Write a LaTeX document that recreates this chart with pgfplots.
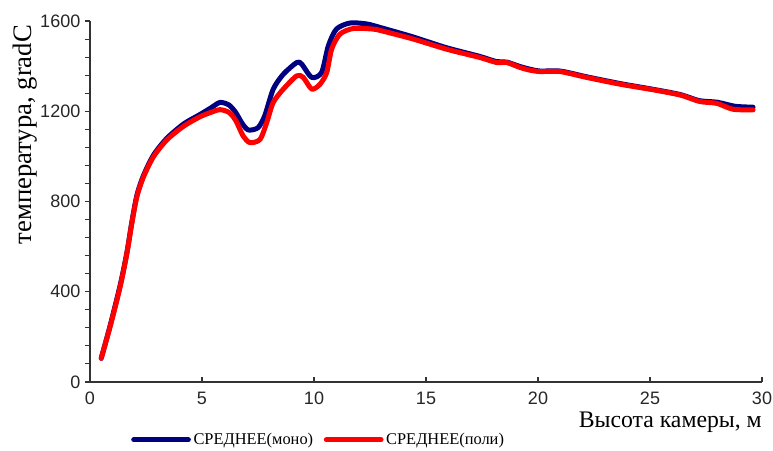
\documentclass[border=0pt]{standalone}
\usepackage{pgfplots}
\pgfplotsset{compat=1.18}
\usepackage{fontspec}
\setmainfont{Liberation Serif}
\newfontfamily\arial{Liberation Sans}
\definecolor{navy}{RGB}{0,0,128}
\definecolor{pred}{RGB}{255,0,0}
\begin{document}
\begin{tikzpicture}
\begin{axis}[
  scale only axis,
  width=504pt, height=270.75pt,
  xmin=0, xmax=30, ymin=0, ymax=1600,
  axis x line=bottom, axis y line=left,
  axis line style={-, black!80, line width=0.8pt},
  xtick={0,5,...,30}, ytick={0,400,...,1600},
  minor y tick num=4,
  tick align=outside,
  major tick length=3.75pt, minor tick length=3.75pt,
  tick style={black!80, line width=0.8pt},
  xtick style={yshift=3.75pt},
  /pgf/number format/assume math mode=true,
  /pgf/number format/1000 sep={},
  ticklabel style={font=\arial\fontsize{13.5}{15}\selectfont, text=black!85},
  xlabel={Высота камеры, м},
  ylabel={температура, gradC},
  xlabel style={font=\fontsize{17.8}{20}\selectfont, at={(rel axis cs:1,-0.111)}, anchor=east, inner sep=0pt},
  ylabel style={font=\fontsize{20}{22}\selectfont, at={(rel axis cs:-0.097,0.685)}, anchor=center, inner sep=0pt},
  legend columns=2,
  legend style={draw=none, fill=none, at={(rel axis cs:0.055,-0.16)}, anchor=west,
    font=\fontsize{12.3}{14}\selectfont,
    /tikz/every even column/.append style={column sep=6pt},
    nodes={inner sep=2pt}},
  legend image code/.code={\draw[#1] (0pt,0pt) -- (41pt,0pt);},
  every axis plot/.append style={line width=3.75pt, smooth, tension=0.45, line join=round, line cap=round},
]
\addplot[navy] coordinates {
(0.5,105) (0.9,250) (1.35,430) (1.65,575) (1.87,710) (2.1,830) (2.4,918) (2.85,1008)
(3.45,1082) (4.2,1145) (4.9,1185) (5.4,1215) (5.8,1239) (6.2,1228) (6.5,1195) (6.8,1145)
(7.07,1117) (7.5,1127) (7.8,1180) (8.18,1298) (8.63,1364) (9.23,1416) (9.45,1409) (9.9,1350)
(10.34,1372) (10.64,1490) (11.0,1564) (11.6,1591) (12.35,1587) (13,1570) (14.4,1530) (15.9,1482)
(17.4,1443) (18.15,1420) (18.6,1418) (19.2,1398) (19.7,1385) (20.1,1378) (21,1378) (22.2,1352)
(23.7,1322) (25.15,1297) (26.35,1274) (27.2,1247) (28,1240) (28.8,1222) (29.6,1218)
};
\addlegendentry{СРЕДНЕЕ(моно)}
\addplot[pred] coordinates {
(0.5,105) (0.9,246) (1.35,424) (1.65,572) (1.87,705) (2.1,824) (2.4,912) (2.85,1001)
(3.45,1075) (4.2,1135) (4.9,1175) (5.4,1195) (5.8,1207) (6.2,1195) (6.5,1160) (6.84,1090)
(7.14,1061) (7.59,1075) (7.89,1150) (8.18,1239) (8.63,1298) (9.23,1357) (9.52,1350) (9.9,1298)
(10.27,1320) (10.57,1372) (10.79,1476) (11.16,1542) (11.76,1567) (12.65,1564) (13,1557) (14.43,1520)
(15.92,1475) (17.41,1438) (18.15,1416) (18.6,1416) (19.2,1394) (19.64,1382) (20.1,1376) (20.98,1376)
(22.17,1350) (23.66,1320) (25.15,1295) (26.34,1272) (27.23,1243) (27.98,1235) (28.7,1209) (29.6,1206)
};
\addlegendentry{СРЕДНЕЕ(поли)}
\coordinate (bl) at (rel axis cs:0,0);
\coordinate (tr) at (rel axis cs:1,1);
\end{axis}
\pgfresetboundingbox
\path ([xshift=-67.5pt,yshift=-51pt]bl) rectangle ([xshift=8.25pt,yshift=15.75pt]tr);
\end{tikzpicture}
\end{document}
